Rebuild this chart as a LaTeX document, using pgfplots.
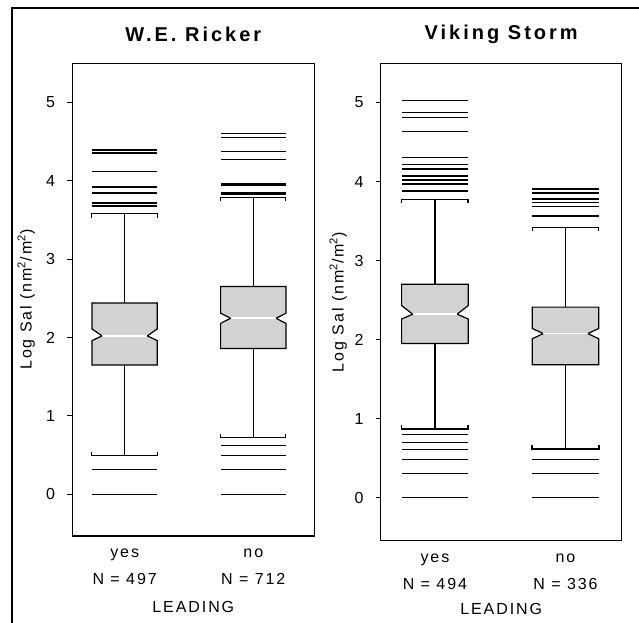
\documentclass[border=0pt]{standalone}
\usepackage{fontspec}
\setmainfont{Liberation Sans}[LetterSpace=12]
\usepackage{pgfplots}
\pgfplotsset{compat=1.18}
\newcommand{\lab}{\fontsize{16}{19}\selectfont}
\pgfplotsset{
  myax/.style={
    scale only axis, clip=false,
    axis line style={line width=1.4pt, black},
    ytick={0,1,2,3,4,5}, ytick pos=left, tick align=outside,
    major tick length=5pt, ytick style={line width=1pt, black},
    xtick={1,2}, xtick style={draw=none},
    /pgf/number format/assume math mode=true,
    yticklabel style={font=\lab, inner sep=0pt, xshift=-12pt},
    xticklabel style={align=center, font=\fontsize{16}{26.7}\selectfont, inner sep=0pt, yshift=-8pt},
    title style={font=\bfseries\fontsize{20}{23}\selectfont\addfontfeature{LetterSpace=15}, at={(axis description cs:0.5,1.049)}, anchor=center},
    ylabel style={font=\lab, anchor=center},
    xlabel style={font=\lab, anchor=center},
  },
  outl/.style={only marks, mark=-, mark options={line width=1pt, black}},
  wh/.style={line width=1pt, black, mark=none},
  bx/.style={fill=gray!35, draw=black, line width=1.2pt, mark=none},
  md/.style={draw=white, line width=1.6pt, mark=none},
}
\begin{document}
\begin{tikzpicture}
\useasboundingbox (0pt,0pt) rectangle (639pt,622pt);
\draw[line width=2pt] (11.5pt,-5pt) -- (11.5pt,614pt) -- (660pt,614pt);

% ---------------- W.E. Ricker ----------------
\begin{axis}[myax, at={(72.3pt,86pt)}, anchor=south west,
  width=242pt, height=472.7pt,
  xmin=0.593, xmax=2.474, ymin=-0.532, ymax=5.497,
  xticklabels={{yes\\N = 497},{no\\N = 712}},
  title={W.E. Ricker},
  xlabel={LEADING}, xlabel style={at={(axis description cs:0.5,-0.150)}},
  ylabel={Log Sal (nm\textsuperscript{2}/m\textsuperscript{2})},
  ylabel style={at={(axis description cs:-0.190,0.5)}},
]
% yes
\addplot[wh] coordinates {(1,2.44) (1,3.58)};
\addplot[wh] coordinates {(0.746,3.53) (0.746,3.58) (1.254,3.58) (1.254,3.53)};
\addplot[wh] coordinates {(1,1.65) (1,0.49)};
\addplot[wh] coordinates {(0.746,0.54) (0.746,0.49) (1.254,0.49) (1.254,0.54)};
\addplot[bx] coordinates {(0.746,1.65) (0.746,1.96) (0.824,2.02) (0.746,2.11) (0.746,2.44) (1.254,2.44) (1.254,2.11) (1.176,2.02) (1.254,1.96) (1.254,1.65)} -- cycle;
\addplot[md] coordinates {(0.824,2.02) (1.176,2.02)};
\addplot[outl, mark size=32.6pt] coordinates {
 (1,4.40) (1,4.39) (1,4.36) (1,4.35) (1,4.12) (1,3.925) (1,3.915) (1,3.845) (1,3.835)
 (1,3.72) (1,3.71) (1,3.68) (1,3.67) (1,0.31) (1,0)};
% no
\addplot[wh] coordinates {(2,2.65) (2,3.785)};
\addplot[wh] coordinates {(1.746,3.735) (1.746,3.785) (2.254,3.785) (2.254,3.735)};
\addplot[wh] coordinates {(2,1.86) (2,0.72)};
\addplot[wh] coordinates {(1.746,0.77) (1.746,0.72) (2.254,0.72) (2.254,0.77)};
\addplot[bx] coordinates {(1.746,1.86) (1.746,2.18) (1.824,2.245) (1.746,2.31) (1.746,2.65) (2.254,2.65) (2.254,2.31) (2.176,2.245) (2.254,2.18) (2.254,1.86)} -- cycle;
\addplot[md] coordinates {(1.824,2.245) (2.176,2.245)};
\addplot[outl, mark size=32.6pt] coordinates {
 (2,4.60) (2,4.55) (2,4.375) (2,4.27) (2,3.96) (2,3.95) (2,3.94) (2,3.85) (2,3.84) (2,3.83)
 (2,0.62) (2,0.49) (2,0.31) (2,0)};
\end{axis}

% ---------------- Viking Storm ----------------
\begin{axis}[myax, at={(380.7pt,81.5pt)}, anchor=south west,
  width=241pt, height=477pt,
  xmin=0.585, xmax=2.43, ymin=-0.544, ymax=5.494,
  xticklabels={{yes\\N = 494},{no\\N = 336}},
  title={Viking Storm},
  xlabel={LEADING}, xlabel style={at={(axis description cs:0.5,-0.1445)}},
  ylabel={Log Sal (nm\textsuperscript{2}/m\textsuperscript{2})},
  ylabel style={at={(axis description cs:-0.176,0.5)}},
]
% yes
\addplot[wh, line width=1.5pt] coordinates {(1,2.70) (1,3.775)};
\addplot[wh, line width=1.5pt] coordinates {(0.745,3.725) (0.745,3.775) (1.255,3.775) (1.255,3.725)};
\addplot[wh, line width=1.6pt] coordinates {(1,1.95) (1,0.865)};
\addplot[wh, line width=1.6pt] coordinates {(0.745,0.915) (0.745,0.865) (1.255,0.865) (1.255,0.915)};
\addplot[bx] coordinates {(0.745,1.95) (0.745,2.26) (0.83,2.32) (0.745,2.43) (0.745,2.70) (1.255,2.70) (1.255,2.43) (1.17,2.32) (1.255,2.26) (1.255,1.95)} -- cycle;
\addplot[md] coordinates {(0.83,2.32) (1.17,2.32)};
\addplot[outl, mark size=33.3pt] coordinates {
 (1,5.03) (1,4.88) (1,4.81) (1,4.63) (1,4.31) (1,4.22) (1,4.165) (1,4.155) (1,4.075) (1,4.065)
 (1,4.02) (1,4.01) (1,3.97) (1,3.96) (1,3.89) (1,3.88)
 (1,0.80) (1,0.70) (1,0.605) (1,0.485) (1,0.305) (1,0)};
% no
\addplot[wh] coordinates {(2,2.41) (2,3.42)};
\addplot[wh] coordinates {(1.745,3.37) (1.745,3.42) (2.255,3.42) (2.255,3.37)};
\addplot[wh, line width=1.5pt] coordinates {(2,1.68) (2,0.615)};
\addplot[wh, line width=1.5pt] coordinates {(1.745,0.665) (1.745,0.615) (2.255,0.615) (2.255,0.665)};
\addplot[bx] coordinates {(1.745,1.68) (1.745,2.01) (1.83,2.075) (1.745,2.14) (1.745,2.41) (2.255,2.41) (2.255,2.14) (2.17,2.075) (2.255,2.01) (2.255,1.68)} -- cycle;
\addplot[md] coordinates {(1.83,2.075) (2.17,2.075)};
\addplot[outl, mark size=33.3pt] coordinates {
 (2,3.91) (2,3.90) (2,3.86) (2,3.85) (2,3.785) (2,3.775) (2,3.73) (2,3.68) (2,3.57) (2,3.56)
 (2,0.48) (2,0.31) (2,0)};
\end{axis}
\end{tikzpicture}
\end{document}
